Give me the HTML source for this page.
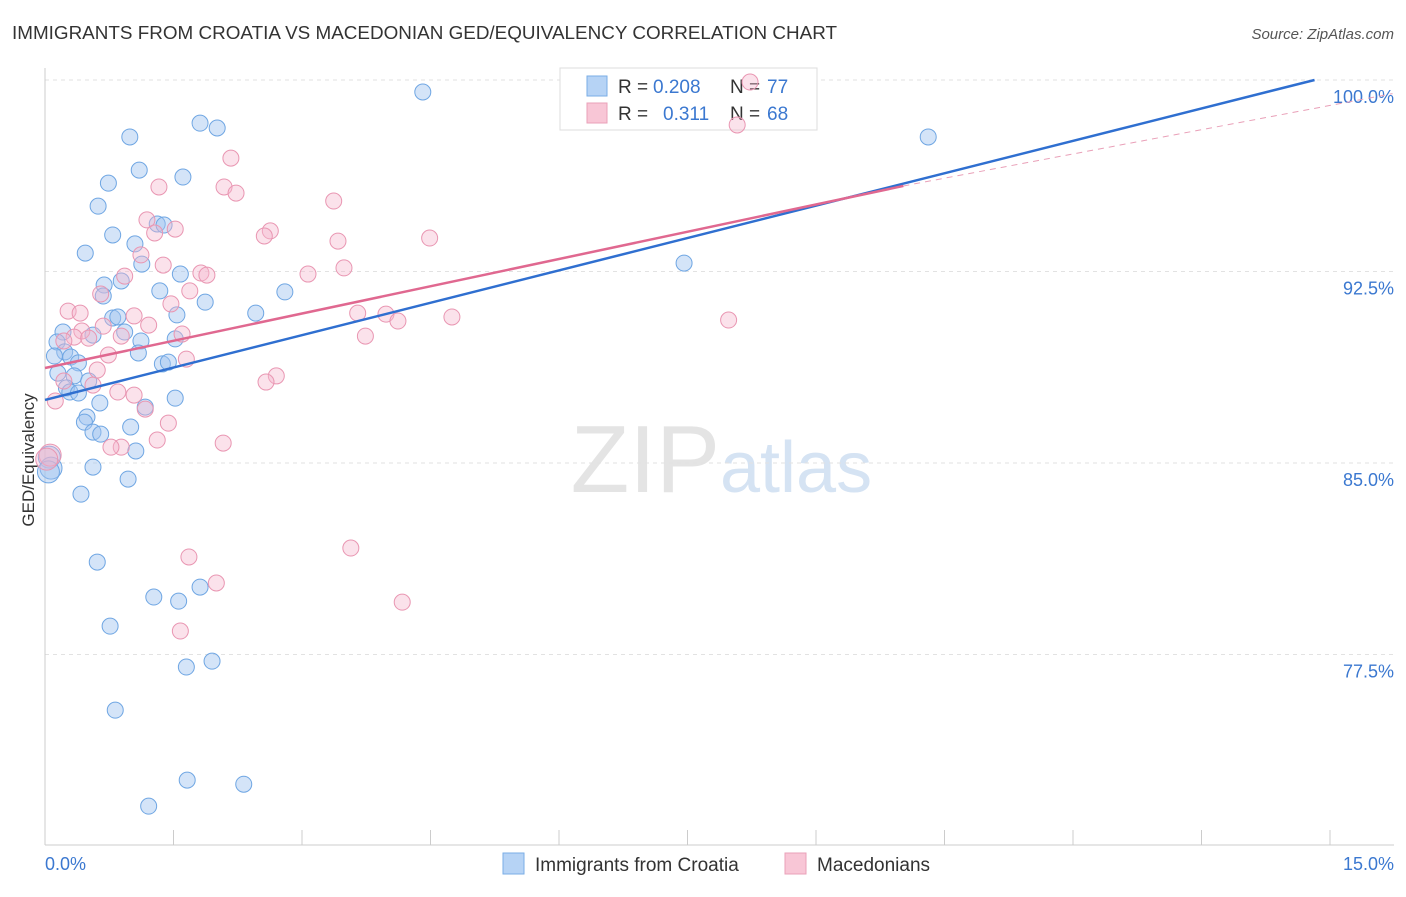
<!DOCTYPE html>
<html><head><meta charset="utf-8"><style>
body{margin:0;background:#fff;font-family:"Liberation Sans",sans-serif}
svg text{font-family:"Liberation Sans",sans-serif}
</style></head><body>
<svg id="chart" width="1406" height="892">
<text x="12" y="39" font-size="18" fill="#333" textLength="825" lengthAdjust="spacingAndGlyphs">IMMIGRANTS FROM CROATIA VS MACEDONIAN GED/EQUIVALENCY CORRELATION CHART</text>
<text x="1394" y="39" font-size="15" fill="#555" font-style="italic" text-anchor="end">Source: ZipAtlas.com</text>
<text x="720" y="492" font-size="96" fill="#e4e4e4" font-family="Liberation Serif" text-anchor="end">ZIP</text>
<text x="720" y="492" font-size="72" fill="#d5e3f3">atlas</text>
<g id="grid"></g><g id="axes"></g>
<g>
<rect x="560" y="68" width="257" height="62" fill="#fff" stroke="#ddd"/>
<rect x="587" y="76" width="20" height="20" fill="#b6d3f5" stroke="#7aaee6"/>
<rect x="587" y="103" width="20" height="20" fill="#f8c6d6" stroke="#eaa0b8"/>
<text x="618" y="93" font-size="19" fill="#333">R =</text>
<text x="653" y="93" font-size="19" fill="#3b78d0">0.208</text>
<text x="730" y="93" font-size="19" fill="#333">N =</text>
<text x="767" y="93" font-size="19" fill="#3b78d0">77</text>
<text x="618" y="120" font-size="19" fill="#333">R =</text>
<text x="663" y="120" font-size="19" fill="#3b78d0">0.311</text>
<text x="730" y="120" font-size="19" fill="#333">N =</text>
<text x="767" y="120" font-size="19" fill="#3b78d0">68</text>
</g>
<g id="pts"></g><g id="trends"></g>
<text x="34" y="460" font-size="17" fill="#333" transform="rotate(-90 34 460)" text-anchor="middle">GED/Equivalency</text>
<g>
<rect x="503" y="853" width="21" height="21" fill="#b6d3f5" stroke="#7aaee6"/>
<text x="535" y="871" font-size="19" fill="#333">Immigrants from Croatia</text>
<rect x="785" y="853" width="21" height="21" fill="#f8c6d6" stroke="#eaa0b8"/>
<text x="817" y="871" font-size="19" fill="#333">Macedonians</text>
</g>
</svg>
<script>
const blueX=[4.41,1.81,2.01,0.99,10.31,1.10,1.61,0.74,0.62,1.31,1.39,0.79,1.05,0.47,1.13,7.46,1.58,0.89,0.69,1.34,0.68,1.87,2.80,2.46,0.79,0.85,1.54,0.93,0.21,0.56,1.52,1.12,0.14,0.23,1.09,0.11,0.30,0.39,1.37,1.44,0.15,0.34,0.51,0.25,0.29,0.39,1.52,0.64,1.17,0.49,0.46,0.56,0.65,1.00,1.06,0.05,0.07,0.04,0.56,0.97,0.42,0.61,1.27,1.56,1.81,0.76,1.95,1.65,0.82,1.66,2.32,1.21];
const blueY=[99.53,98.31,98.12,97.77,97.77,96.47,96.20,95.96,95.06,94.36,94.32,93.93,93.58,93.22,92.79,92.83,92.40,92.13,91.97,91.74,91.54,91.30,91.70,90.87,90.68,90.72,90.80,90.13,90.13,90.01,89.86,89.78,89.74,89.35,89.31,89.19,89.15,88.92,88.88,88.95,88.52,88.41,88.21,87.94,87.78,87.74,87.54,87.35,87.19,86.80,86.60,86.21,86.13,86.41,85.47,85.23,84.80,84.65,84.84,84.37,83.78,81.12,79.75,79.59,80.14,78.61,77.24,77.01,75.32,72.58,72.42,71.56];
const pinkX=[8.23,8.08,2.17,1.33,2.09,2.23,3.37,1.19,1.28,1.52,2.63,2.56,4.49,3.42,1.12,1.38,3.49,3.07,0.93,1.82,1.89,1.69,0.65,1.47,0.27,0.41,3.98,4.12,4.75,3.65,7.98,1.04,1.21,0.68,0.43,0.89,1.60,3.74,0.34,0.51,0.22,0.74,1.65,0.61,2.70,2.58,0.22,0.56,0.85,1.04,0.12,1.17,1.44,0.89,1.31,0.77,2.08,0.06,0.02,1.68,3.57,2.00,4.17,1.58];
const pinkY=[99.92,98.24,96.94,95.81,95.81,95.57,95.26,94.52,94.01,94.16,94.09,93.89,93.81,93.69,93.15,92.75,92.64,92.40,92.32,92.44,92.36,91.74,91.62,91.23,90.95,90.87,90.83,90.56,90.72,90.87,90.60,90.76,90.40,90.36,90.17,89.97,90.05,89.97,89.93,89.89,89.78,89.23,89.07,88.64,88.41,88.17,88.21,88.05,87.78,87.66,87.43,87.11,86.56,85.62,85.90,85.62,85.78,85.31,85.15,81.32,81.67,80.30,79.55,78.42];
const xTicks=[0,1.5,3,4.5,6,7.5,9,10.5,12,13.5,15];
const yTicks=[77.5,85,92.5,100];
const yTickLabels=["77.5%","85.0%","92.5%","100.0%"];
const trendBlue=[87.47,0.8455];
const trendPink=[88.72,0.7116];
const X=v=>45+v*1285/15, Y=v=>80+(100-v)*191.5/7.5;
const NS="http://www.w3.org/2000/svg";
function mk(p,t,a){const e=document.createElementNS(NS,t);for(const k in a)e.setAttribute(k,a[k]);document.getElementById(p).appendChild(e);return e;}
yTicks.forEach((v,i)=>{
 const l=mk('grid','line',{x1:45,x2:1394,y1:Y(v),y2:Y(v),stroke:'#e2e2e2','stroke-dasharray':'4,4'});
 
 
 const t=mk('axes','text',{x:1394,y:Y(v)+23,'font-size':18,fill:'#3b78d0','text-anchor':'end'});
 t.textContent=yTickLabels[i];
 
 
});
const ax=mk('axes','line',{x1:45,x2:45,y1:68,y2:845,stroke:'#ccc'});


const bx=mk('axes','line',{x1:45,x2:1394,y1:845,y2:845,stroke:'#ccc'});


xTicks.forEach(v=>{
 const t=mk('axes','line',{x1:X(v),x2:X(v),y1:830,y2:845,stroke:'#ccc'});
 
 
});
const xl0=mk('axes','text',{x:45,y:870,'font-size':18,fill:'#3b78d0'});xl0.textContent=xTicks[0].toFixed(1)+'%';


const xl1=mk('axes','text',{x:1394,y:870,'font-size':18,fill:'#3b78d0','text-anchor':'end'});xl1.textContent=xTicks[xTicks.length-1].toFixed(1)+'%';


blueX.forEach((v,i)=>{
 const c=mk('pts','circle',{cx:X(v),cy:Y(blueY[i]),r:v<0.1?11:8,fill:'rgba(160,196,240,0.45)',stroke:'#6fa6e3','stroke-width':1});
 
 
});
pinkX.forEach((v,i)=>{
 const c=mk('pts','circle',{cx:X(v),cy:Y(pinkY[i]),r:v<0.1?11:8,fill:'rgba(244,182,204,0.4)',stroke:'#e996b2','stroke-width':1});
 
 
});
const bEnd=(100-trendBlue[0])/trendBlue[1];
const tb=mk('trends','line',{x1:X(0),y1:Y(trendBlue[0]),x2:X(bEnd),y2:Y(100),stroke:'#2f6fd0','stroke-width':2.5});


const tp=mk('trends','line',{x1:X(0),y1:Y(trendPink[0]),x2:X(10.02),y2:Y(trendPink[0]+trendPink[1]*10.02),stroke:'#e06890','stroke-width':2.5});


const td=mk('trends','line',{x1:X(10.02),y1:Y(trendPink[0]+trendPink[1]*10.02),x2:X(15.73),y2:Y(trendPink[0]+trendPink[1]*15.1),stroke:'#e9a0b8','stroke-width':1,'stroke-dasharray':'6,5'});


</script>
</body></html>
